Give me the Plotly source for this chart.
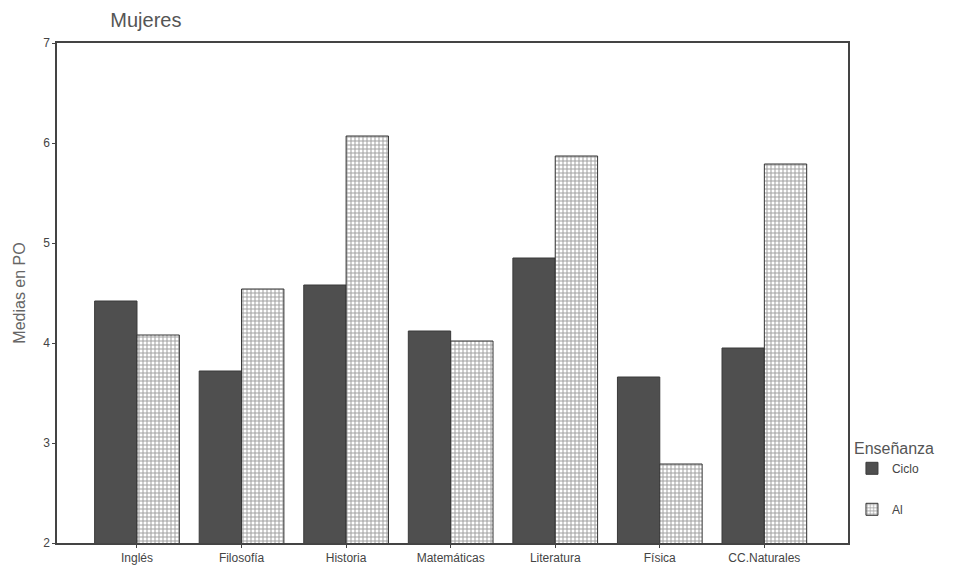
import plotly.graph_objects as go

categories = ["Inglés", "Filosofía", "Historia", "Matemáticas", "Literatura", "Física", "CC.Naturales"]
ciclo = [4.42, 3.72, 4.58, 4.12, 4.85, 3.66, 3.95]
al = [4.08, 4.54, 6.07, 4.02, 5.87, 2.79, 5.79]
y_ticks = [2, 3, 4, 5, 6, 7]

fig = go.Figure()
fig.add_trace(go.Bar(
    x=categories, y=ciclo, name="Ciclo", legendgroup="c",
    marker=dict(color="#4f4f4f", line=dict(color="#3a3a3a", width=1)),
))
fig.add_trace(go.Bar(
    x=categories, y=al, name="Al", legendgroup="a",
    marker=dict(color="white", line=dict(color="#333333", width=1),
                pattern=dict(shape="+", fgcolor="#444444", bgcolor="white", size=4, solidity=0.45)),
))

fig.update_layout(
    width=965, height=568,
    margin=dict(l=49, r=125, t=35, b=33, autoexpand=False),
    paper_bgcolor="white", plot_bgcolor="white",
    barmode="group", bargap=0.19, bargroupgap=0,
    font=dict(family="Liberation Sans, Arial, sans-serif", color="#555555", size=12),
    title=dict(text="Mujeres", x=0.106, xanchor="left", y=0.979, yanchor="middle",
               font=dict(size=20, color="#555555")),
    xaxis=dict(range=[-0.765, 6.8], showline=True, linecolor="#444444", linewidth=1.5, mirror=True,
               ticks="outside", ticklen=3, tickcolor="#444444", tickfont=dict(size=12, color="#444444"),
               showgrid=False, automargin=False),
    yaxis=dict(range=[2, 7], tickvals=y_ticks, showline=True, linecolor="#444444", linewidth=1.5, mirror=True,
               ticks="outside", ticklen=3, tickcolor="#444444", tickfont=dict(size=12, color="#444444"),
               showgrid=False, zeroline=False, automargin=False,
               title=dict(text="Medias en PO", font=dict(size=16, color="#666666"), standoff=14)),
    legend=dict(x=1.005, xanchor="left", y=0.22, yanchor="top",
                title=dict(text="Enseñanza", font=dict(size=16, color="#555555")),
                font=dict(size=12, color="#444444"), tracegroupgap=22, itemwidth=30),
)
fig.write_html("out.html")
